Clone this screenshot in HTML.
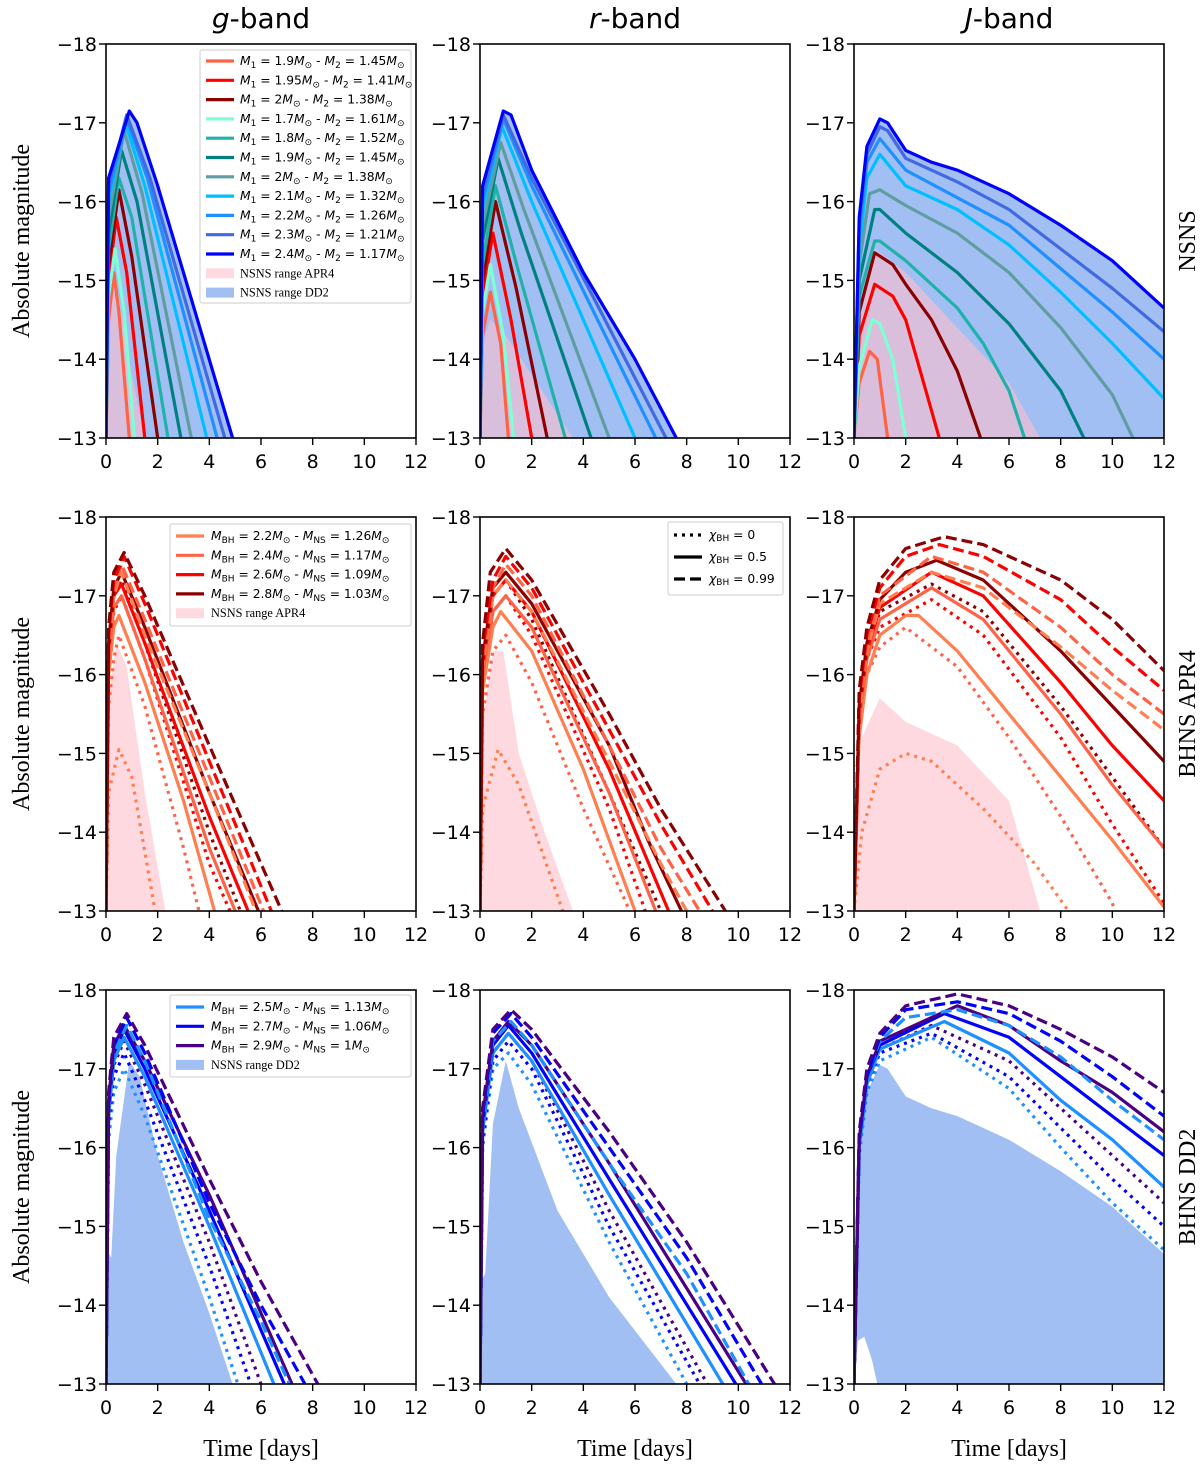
<!DOCTYPE html>
<html><head><meta charset="utf-8"><style>
body{margin:0;background:#fff;}
svg{display:block;font-family:"DejaVu Sans","Liberation Sans",sans-serif;}
.tk{font-size:19px;fill:#000}
.ser{font-family:"Liberation Serif","DejaVu Serif",serif;font-size:24px;fill:#000}
.lg{font-size:12.3px;fill:#000}
</style></head><body>
<svg id="fig" width="1200" height="1472" viewBox="0 0 1200 1472" xmlns="http://www.w3.org/2000/svg"></svg>
<script>
// ---------- axis ranges ----------
const xTicks=[0,2,4,6,8,10,12];
const yTicks=[-18,-17,-16,-15,-14,-13];
const yTickLabels=["\u221218","\u221217","\u221216","\u221215","\u221214","\u221213"];
const bandTitles=["g","r","J"];
const rowLabels=["NSNS","BHNS APR4","BHNS DD2"];

// ---------- row 1: NSNS ----------
const nsnsColors=["#ff6347","#ff0000","#8b0000","#7fffd4","#20b2aa","#008080","#5f9ea0","#00bfff","#1e90ff","#4169e1","#0000ff"];
const nsnsLabels=[["1","1.9","2","1.45"],["1","1.95","2","1.41"],["1","2","2","1.38"],["1","1.7","2","1.61"],["1","1.8","2","1.52"],["1","1.9","2","1.45"],["1","2","2","1.38"],["1","2.1","2","1.32"],["1","2.2","2","1.26"],["1","2.3","2","1.21"],["1","2.4","2","1.17"]];
const nsnsG=[
[[0,-13],[0.1,-14.5],[0.3,-15.1],[0.5,-14.6],[0.9,-13]],
[[0,-13],[0.1,-15],[0.4,-15.8],[0.8,-15.1],[1.5,-13]],
[[0,-13],[0.1,-15.2],[0.5,-16.15],[1,-15.3],[2,-13]],
[[0,-13],[0.1,-14.8],[0.35,-15.4],[0.7,-14.6],[1.1,-13]],
[[0,-13],[0.1,-15.4],[0.5,-16.3],[1,-15.8],[2.4,-13]],
[[0,-13],[0.1,-15.6],[0.6,-16.65],[1.2,-16],[2.9,-13]],
[[0,-13],[0.1,-15.8],[0.7,-16.9],[1.4,-16.1],[3.3,-13]],
[[0,-13],[0.1,-16],[0.75,-17],[1.5,-16.2],[3.9,-13]],
[[0,-13],[0.1,-16.1],[0.8,-17.05],[1.6,-16.3],[4.3,-13]],
[[0,-13],[0.1,-16.2],[0.8,-17.1],[1.7,-16.3],[4.6,-13]],
[[0,-13],[0.1,-16.3],[0.9,-17.15],[1.2,-17.0],[2,-16.2],[4.9,-13]]];
const nsnsR=[
[[0,-13],[0.1,-14.3],[0.4,-14.85],[0.8,-14.2],[1.1,-13]],
[[0,-13],[0.1,-14.8],[0.5,-15.6],[1.2,-14.5],[2,-13]],
[[0,-13],[0.1,-15],[0.6,-16],[1.4,-14.9],[2.6,-13]],
[[0,-13],[0.1,-14.6],[0.4,-15.2],[0.9,-14.3],[1.3,-13]],
[[0,-13],[0.1,-15.2],[0.6,-16.2],[1.5,-15.1],[3.3,-13]],
[[0,-13],[0.1,-15.5],[0.7,-16.55],[1.6,-15.6],[4.3,-13]],
[[0,-13],[0.1,-15.7],[0.8,-16.75],[1.7,-15.9],[5,-13]],
[[0,-13],[0.1,-15.9],[0.85,-16.95],[2,-16],[6,-13]],
[[0,-13],[0.1,-16],[0.9,-17.05],[2,-16.2],[6.8,-13]],
[[0,-13],[0.1,-16.1],[0.9,-17.1],[2,-16.3],[7.2,-13]],
[[0,-13],[0.1,-16.2],[0.9,-17.15],[1.2,-17.1],[2,-16.4],[4,-15.1],[6,-14.0],[7.6,-13]]];
const nsnsJ=[
[[0,-13],[0.2,-13.7],[0.6,-14.1],[0.9,-14.0],[1.3,-13]],
[[0,-13],[0.2,-14.3],[0.8,-14.95],[1.5,-14.8],[2,-14.5],[3.3,-13]],
[[0,-13],[0.2,-14.6],[0.8,-15.35],[1.5,-15.2],[2,-14.95],[3,-14.5],[4,-13.85],[4.9,-13]],
[[0,-13],[0.2,-13.9],[0.7,-14.5],[1,-14.45],[1.5,-14.0],[2,-13]],
[[0,-13],[0.2,-14.8],[0.8,-15.5],[1,-15.5],[2,-15.25],[4,-14.65],[5,-14.2],[6,-13.6],[6.6,-13]],
[[0,-13],[0.2,-15],[0.8,-15.9],[1,-15.9],[2,-15.6],[4,-15.1],[6,-14.45],[8,-13.6],[8.9,-13]],
[[0,-13],[0.2,-15.2],[0.6,-16.1],[1,-16.15],[2,-15.95],[4,-15.6],[6,-15.1],[8,-14.4],[10,-13.55],[10.8,-13]],
[[0,-13],[0.2,-15.4],[0.5,-16.3],[1,-16.6],[2,-16.2],[4,-15.9],[6,-15.45],[8,-14.85],[10,-14.2],[12,-13.5]],
[[0,-13],[0.2,-15.6],[0.5,-16.5],[1,-16.8],[2,-16.4],[4,-16.05],[6,-15.7],[8,-15.15],[10,-14.6],[12,-14.0]],
[[0,-13],[0.2,-15.7],[0.5,-16.6],[1,-16.95],[1.3,-16.9],[2,-16.55],[4,-16.25],[6,-15.9],[8,-15.4],[10,-14.9],[12,-14.35]],
[[0,-13],[0.2,-15.8],[0.5,-16.7],[1,-17.05],[1.3,-17.0],[2,-16.65],[3,-16.5],[4,-16.4],[6,-16.1],[8,-15.7],[10,-15.25],[12,-14.65]]];
const apr4RangeG1=[[0,-13],[0.1,-14.7],[0.3,-15.1],[0.6,-14.6],[1,-13.8],[1.5,-13]];
const apr4RangeR1=[[0,-13],[0.1,-14.2],[0.4,-14.5],[1,-14.3],[2,-13.8],[3.6,-13]];
const apr4RangeJ1=[[0,-13],[0.3,-14.6],[0.8,-15.4],[2,-15.1],[4,-14.4],[6,-13.7],[7.2,-13]];

// ---------- row 2: BHNS APR4 ----------
const apr4Colors=["#ff7f50","#ff6347","#ff0000","#8b0000"];
const apr4Labels=[["2.2","1.26"],["2.4","1.17"],["2.6","1.09"],["2.8","1.03"]];
const spinStyles=["dot","solid","dash"];
const apr4G=[
[0,0,[[0,-13],[0.1,-14.5],[0.5,-15.05],[1,-14.7],[1.9,-13]]],
[1,0,[[0,-13],[0.1,-15.6],[0.3,-16.2],[0.5,-16.5],[1.5,-15.6],[3,-13.8],[3.6,-13]]],
[2,0,[[0,-13],[0.1,-16.1],[0.3,-16.8],[0.6,-17.0],[1.5,-16.2],[4,-13.6],[4.8,-13]]],
[3,0,[[0,-13],[0.1,-16.3],[0.3,-17.0],[0.6,-17.2],[1.5,-16.4],[4,-14.0],[5.2,-13]]],
[0,1,[[0,-13],[0.1,-16],[0.3,-16.6],[0.5,-16.75],[1.5,-15.9],[3,-14.4],[4.2,-13]]],
[1,1,[[0,-13],[0.1,-16.2],[0.3,-16.85],[0.6,-17.0],[1.5,-16.2],[4,-13.8],[5.0,-13]]],
[2,1,[[0,-13],[0.1,-16.3],[0.3,-17],[0.6,-17.15],[1.5,-16.4],[4,-14.2],[5.5,-13]]],
[3,1,[[0,-13],[0.1,-16.4],[0.3,-17.1],[0.6,-17.3],[1.5,-16.6],[4,-14.5],[5.9,-13]]],
[0,2,[[0,-13],[0.1,-16.3],[0.3,-17],[0.6,-17.3],[1.5,-16.5],[4,-14.5],[5.8,-13]]],
[1,2,[[0,-13],[0.1,-16.4],[0.3,-17.1],[0.6,-17.4],[1.5,-16.7],[4,-14.7],[6.1,-13]]],
[2,2,[[0,-13],[0.1,-16.5],[0.3,-17.2],[0.7,-17.5],[1.5,-16.9],[4,-14.9],[6.4,-13]]],
[3,2,[[0,-13],[0.1,-16.6],[0.3,-17.3],[0.7,-17.55],[1.5,-17.0],[4,-15.1],[6.8,-13]]]];
const apr4R=[
[0,0,[[0,-13],[0.1,-14.3],[0.7,-15.05],[1.5,-14.6],[3.2,-13]]],
[1,0,[[0,-13],[0.1,-15.5],[0.5,-16.3],[1,-16.5],[2,-15.9],[4,-14.3],[5.8,-13]]],
[2,0,[[0,-13],[0.1,-15.9],[0.5,-16.8],[1,-17.0],[2,-16.5],[5,-14.3],[6.4,-13]]],
[3,0,[[0,-13],[0.1,-16.0],[0.5,-17.0],[1,-17.2],[2,-16.7],[5,-14.5],[7,-13]]],
[0,1,[[0,-13],[0.1,-15.8],[0.5,-16.6],[0.8,-16.8],[2,-16.3],[4,-14.8],[6,-13]]],
[1,1,[[0,-13],[0.1,-16.0],[0.5,-16.8],[1,-17.0],[2,-16.6],[5,-14.5],[6.8,-13]]],
[2,1,[[0,-13],[0.1,-16.1],[0.5,-17.0],[1,-17.2],[2,-16.8],[5,-14.8],[7.3,-13]]],
[3,1,[[0,-13],[0.1,-16.2],[0.5,-17.1],[1,-17.3],[2,-16.9],[5,-15.1],[6.5,-13.9],[7.8,-13]]],
[0,2,[[0,-13],[0.1,-16.1],[0.5,-17.0],[1,-17.2],[2,-16.8],[5,-14.9],[7,-13.6],[8,-13]]],
[1,2,[[0,-13],[0.1,-16.2],[0.5,-17.1],[1,-17.4],[2,-17.0],[5,-15.1],[7,-13.8],[8.5,-13]]],
[2,2,[[0,-13],[0.1,-16.3],[0.5,-17.2],[1,-17.5],[2,-17.1],[5,-15.3],[7,-14.1],[9,-13]]],
[3,2,[[0,-13],[0.1,-16.4],[0.4,-17.3],[1,-17.6],[2,-17.2],[5,-15.5],[7,-14.3],[9.5,-13]]]];
const apr4J=[
[0,0,[[0,-13],[0.3,-14],[1,-14.8],[2,-15.0],[3,-14.9],[5,-14.3],[7,-13.6],[8.3,-13]]],
[1,0,[[0,-13],[0.2,-15.3],[0.5,-16.0],[1,-16.35],[2,-16.6],[4,-16.1],[6,-15.2],[8,-14.2],[10,-13.1],[10.1,-13]]],
[2,0,[[0,-13],[0.2,-15.4],[0.5,-16.2],[1,-16.6],[3,-16.95],[5,-16.5],[8,-15.2],[10,-14.1],[12,-13.1]]],
[3,0,[[0,-13],[0.2,-15.5],[0.5,-16.3],[1,-16.8],[3,-17.15],[5,-16.8],[8,-15.6],[10,-14.7],[12,-13.8]]],
[0,1,[[0,-13],[0.2,-15.2],[0.5,-16],[1,-16.5],[2,-16.75],[2.5,-16.75],[4,-16.3],[6,-15.5],[8,-14.7],[10,-13.9],[12,-13.05]]],
[1,1,[[0,-13],[0.2,-15.4],[0.5,-16.2],[1,-16.7],[3,-17.1],[5,-16.7],[8,-15.5],[10,-14.6],[12,-13.8]]],
[2,1,[[0,-13],[0.2,-15.5],[0.5,-16.3],[1,-16.85],[3,-17.3],[5,-17.0],[8,-15.9],[10,-15.1],[12,-14.4]]],
[3,1,[[0,-13],[0.2,-15.6],[0.5,-16.4],[1,-16.95],[2,-17.3],[3.2,-17.45],[5,-17.2],[8,-16.3],[10,-15.6],[12,-14.9]]],
[0,2,[[0,-13],[0.2,-15.5],[0.5,-16.3],[1,-16.9],[3,-17.3],[5,-17.1],[8,-16.35],[10,-15.8],[12,-15.3]]],
[1,2,[[0,-13],[0.2,-15.6],[0.5,-16.4],[1,-17.0],[3,-17.5],[5,-17.3],[8,-16.6],[10,-16.0],[12,-15.5]]],
[2,2,[[0,-13],[0.2,-15.7],[0.5,-16.5],[1,-17.1],[2,-17.5],[3.3,-17.65],[5,-17.5],[8,-16.95],[10,-16.35],[12,-15.8]]],
[3,2,[[0,-13],[0.2,-15.8],[0.5,-16.6],[1,-17.2],[2,-17.6],[3.5,-17.75],[5,-17.65],[8,-17.2],[10,-16.7],[12,-16.05]]]];
const apr4RangeG2=[[0,-13],[0.1,-15.7],[0.4,-16.4],[0.8,-16.1],[1.5,-14.5],[2.3,-13]];
const apr4RangeR2=[[0,-13],[0.1,-15.4],[0.5,-16.3],[0.9,-16.3],[1.5,-15],[2.5,-14],[3.6,-13]];
const apr4RangeJ2=[[0,-13],[0.3,-15.2],[1,-15.7],[2,-15.4],[4,-15.1],[6,-14.4],[7.2,-13]];

// ---------- row 3: BHNS DD2 ----------
const dd2Colors=["#1e90ff","#0000ff","#4b0082"];
const dd2Labels=[["2.5","1.13"],["2.7","1.06"],["2.9","1"]];
const dd2G=[
[0,0,[[0,-13],[0.1,-16.1],[0.3,-16.7],[0.7,-17.0],[1.5,-16.4],[4,-14.1],[5.1,-13]]],
[1,0,[[0,-13],[0.1,-16.3],[0.3,-16.9],[0.7,-17.2],[1.5,-16.6],[4,-14.5],[5.6,-13]]],
[2,0,[[0,-13],[0.1,-16.4],[0.3,-17.05],[0.7,-17.35],[1.5,-16.8],[4,-14.8],[6.0,-13]]],
[0,1,[[0,-13],[0.1,-16.4],[0.3,-17.1],[0.7,-17.4],[1.5,-16.9],[4,-15.0],[6.5,-13]]],
[1,1,[[0,-13],[0.1,-16.5],[0.3,-17.2],[0.7,-17.5],[1.5,-17.0],[4,-15.2],[6.9,-13]]],
[2,1,[[0,-13],[0.1,-16.6],[0.3,-17.3],[0.7,-17.55],[1.5,-17.1],[4,-15.4],[7.2,-13]]],
[0,2,[[0,-13],[0.1,-16.5],[0.3,-17.2],[0.8,-17.55],[1.5,-17.1],[4,-15.1],[6,-13.8],[7.1,-13]]],
[1,2,[[0,-13],[0.1,-16.6],[0.3,-17.3],[0.8,-17.65],[1.5,-17.2],[4,-15.3],[6,-14.0],[7.7,-13]]],
[2,2,[[0,-13],[0.1,-16.7],[0.3,-17.4],[0.8,-17.7],[1.5,-17.3],[4,-15.6],[6,-14.3],[8.2,-13]]]];
const dd2R=[
[0,0,[[0,-13],[0.1,-16.0],[0.5,-17.0],[1.1,-17.2],[2,-16.8],[5,-14.8],[8.0,-13]]],
[1,0,[[0,-13],[0.1,-16.1],[0.5,-17.1],[1.1,-17.35],[2,-17.0],[5,-15.0],[8.5,-13]]],
[2,0,[[0,-13],[0.1,-16.2],[0.5,-17.2],[1.1,-17.45],[2,-17.1],[5,-15.2],[8.8,-13]]],
[0,1,[[0,-13],[0.1,-16.2],[0.5,-17.2],[1.1,-17.45],[2,-17.1],[5,-15.4],[9.4,-13]]],
[1,1,[[0,-13],[0.1,-16.3],[0.5,-17.3],[1.1,-17.55],[2,-17.2],[5,-15.6],[9.9,-13]]],
[2,1,[[0,-13],[0.1,-16.4],[0.5,-17.35],[1.1,-17.6],[2,-17.3],[5,-15.8],[10.3,-13]]],
[0,2,[[0,-13],[0.1,-16.3],[0.5,-17.35],[1.2,-17.6],[2,-17.3],[5,-15.8],[8,-14.4],[10.4,-13]]],
[1,2,[[0,-13],[0.1,-16.4],[0.5,-17.45],[1.2,-17.7],[2,-17.4],[5,-16.0],[8,-14.6],[10.9,-13]]],
[2,2,[[0,-13],[0.1,-16.5],[0.5,-17.5],[1.2,-17.75],[2,-17.5],[5,-16.2],[8,-14.8],[11.4,-13]]]];
const dd2J=[
[0,0,[[0,-13],[0.2,-15.9],[0.5,-16.7],[1,-17.1],[3,-17.4],[6,-16.75],[8,-16.0],[10,-15.3],[12,-14.7]]],
[1,0,[[0,-13],[0.2,-16.0],[0.5,-16.8],[1,-17.2],[3,-17.45],[6,-16.9],[8,-16.25],[10,-15.6],[12,-15.0]]],
[2,0,[[0,-13],[0.2,-16.0],[0.5,-16.8],[1,-17.25],[3,-17.55],[6,-17.1],[8,-16.5],[10,-15.9],[12,-15.3]]],
[0,1,[[0,-13],[0.2,-16.0],[0.5,-16.8],[1,-17.25],[3.5,-17.6],[6,-17.2],[8,-16.6],[10,-16.1],[12,-15.5]]],
[1,1,[[0,-13],[0.2,-16.1],[0.5,-16.9],[1,-17.3],[3.5,-17.7],[6,-17.4],[8,-16.9],[10,-16.4],[12,-15.9]]],
[2,1,[[0,-13],[0.2,-16.1],[0.5,-16.9],[1,-17.35],[4,-17.8],[6,-17.55],[8,-17.1],[10,-16.7],[12,-16.2]]],
[0,2,[[0,-13],[0.2,-16.1],[0.5,-16.9],[1,-17.35],[2,-17.65],[4,-17.75],[6,-17.55],[8,-17.15],[10,-16.6],[12,-16.1]]],
[1,2,[[0,-13],[0.2,-16.1],[0.5,-16.9],[1,-17.4],[2,-17.75],[4,-17.85],[6,-17.7],[8,-17.35],[10,-16.9],[12,-16.4]]],
[2,2,[[0,-13],[0.2,-16.2],[0.5,-17],[1,-17.45],[2,-17.8],[4,-17.95],[6,-17.8],[8,-17.5],[10,-17.15],[12,-16.7]]]];
const dd2RangeG3=[[0,-13],[0.03,-14.7],[0.2,-14.6],[0.4,-15.9],[0.9,-17.1],[1.3,-16.9],[2,-15.9],[3,-14.8],[4,-13.9],[4.9,-13]];
const dd2RangeR3=[[0,-13],[0.03,-14.3],[0.2,-14.4],[0.5,-16.3],[1,-17.1],[1.5,-16.5],[3,-15.2],[5,-14.1],[7.6,-13]];
const dd2RangeJLow=[[0,-13],[0.15,-13.55],[0.4,-13.6],[0.7,-13.3],[0.9,-13],[12,-13]];

// ---------- layout ----------
const colX=[106,480,854], rowY=[44,517,990], PW=310, PH=394;
const NS="http://www.w3.org/2000/svg";
const fig=document.getElementById('fig');
function el(tag,attrs,parent){const e=document.createElementNS(NS,tag);for(const k in attrs)e.setAttribute(k,attrs[k]);(parent||fig).appendChild(e);return e;}
function xs(c,t){return colX[c]+t/12*PW;}
function ys(r,m){return rowY[r]+(m+18)/5*PH;}
function pathD(c,r,pts){return pts.map((p,i)=>(i?'L':'M')+xs(c,p[0]).toFixed(1)+' '+ys(r,p[1]).toFixed(1)).join(' ');}
const dashes={dot:"3,5",solid:"",dash:"11,5"};

const defs=el('defs',{});
for(let r=0;r<3;r++)for(let c=0;c<3;c++){
  const cp=el('clipPath',{id:'cp'+r+c},defs);
  el('rect',{x:colX[c],y:rowY[r],width:PW,height:PH},cp);
}
function fillArea(c,r,top,color,name,low){
  let d=pathD(c,r,top);
  if(low){const rev=low.slice().reverse();d+=' '+rev.map(p=>'L'+xs(c,p[0]).toFixed(1)+' '+ys(r,p[1]).toFixed(1)).join(' ');}
  else d+=' L'+xs(c,top[top.length-1][0])+' '+ys(r,-13)+' L'+xs(c,0)+' '+ys(r,-13);
  d+=' Z';
  const p=el('path',{d:d,fill:color,'fill-opacity':0.6,'clip-path':'url(#cp'+r+c+')'});
  
  
}
function line(c,r,pts,color,style,name){
  const p=el('path',{d:pathD(c,r,pts),fill:'none',stroke:color,'stroke-width':3.2,'stroke-dasharray':dashes[style]||'','stroke-linejoin':'round','clip-path':'url(#cp'+r+c+')'});
  
  
}
const PINK="#ffc0cb", CBLUE="#6495ed";

const r1=[nsnsG,nsnsR,nsnsJ], r1pink=[apr4RangeG1,apr4RangeR1,apr4RangeJ1];
for(let c=0;c<3;c++){
  fillArea(c,0,r1[c][10],CBLUE,'nsns-dd2-range-'+bandTitles[c]);
  fillArea(c,0,r1pink[c],PINK,'nsns-apr4-range-'+bandTitles[c]);
  r1[c].forEach((pts,i)=>line(c,0,pts,nsnsColors[i],'solid','nsns-curve-'+bandTitles[c]+'-'+i));
}
const r2=[apr4G,apr4R,apr4J], r2pink=[apr4RangeG2,apr4RangeR2,apr4RangeJ2];
for(let c=0;c<3;c++){
  fillArea(c,1,r2pink[c],PINK,'bhns-apr4-nsns-range-'+bandTitles[c]);
  r2[c].forEach(s=>line(c,1,s[2],apr4Colors[s[0]],spinStyles[s[1]],'bhns-apr4-curve-'+bandTitles[c]+'-'+s[0]+'-'+spinStyles[s[1]]));
}
const r3=[dd2G,dd2R,dd2J], r3blue=[dd2RangeG3,dd2RangeR3,nsnsJ[10]];
for(let c=0;c<3;c++){
  fillArea(c,2,r3blue[c],CBLUE,'bhns-dd2-nsns-range-'+bandTitles[c], c===2?dd2RangeJLow:null);
  r3[c].forEach(s=>line(c,2,s[2],dd2Colors[s[0]],spinStyles[s[1]],'bhns-dd2-curve-'+bandTitles[c]+'-'+s[0]+'-'+spinStyles[s[1]]));
}

for(let r=0;r<3;r++)for(let c=0;c<3;c++){
  const g=el('g',{});
  
  
  el('rect',{x:colX[c],y:rowY[r],width:PW,height:PH,fill:'none',stroke:'#000','stroke-width':1.6},g);
  xTicks.forEach(t=>{
    const x=xs(c,t);
    el('line',{x1:x,x2:x,y1:rowY[r]+PH,y2:rowY[r]+PH+7,stroke:'#000','stroke-width':1.4},g);
    const tx=el('text',{x:x,y:rowY[r]+PH+30,'text-anchor':'middle',class:'tk'},g);tx.textContent=t;
    
    
  });
  yTicks.forEach((m,i)=>{
    const y=ys(r,m);
    el('line',{x1:colX[c]-7,x2:colX[c],y1:y,y2:y,stroke:'#000','stroke-width':1.4},g);
    const ty=el('text',{x:colX[c]-9,y:y+7,'text-anchor':'end',class:'tk'},g);ty.textContent=yTickLabels[i];
    
    
  });
}
for(let c=0;c<3;c++){
  const t=el('text',{x:colX[c]+PW/2,y:28,'text-anchor':'middle','font-size':28});
  t.innerHTML='<tspan font-style="italic">'+bandTitles[c]+'</tspan>-band';
  
  
  const xl=el('text',{x:colX[c]+PW/2,y:1456,'text-anchor':'middle',class:'ser'});
  xl.textContent='Time [days]';
  
  
}
for(let r=0;r<3;r++){
  const cy=rowY[r]+PH/2;
  const yl=el('text',{x:0,y:0,'text-anchor':'middle',class:'ser',transform:'translate(29,'+cy+') rotate(-90)'});
  yl.textContent='Absolute magnitude';
  
  
  const rl=el('text',{x:0,y:0,'text-anchor':'middle',class:'ser',transform:'translate(1195,'+cy+') rotate(-90)'});
  rl.textContent=rowLabels[r];
  
  
}

function legendBox(x,y,w,h,name){
  const g=el('g',{});
  
  
  el('rect',{x:x,y:y,width:w,height:h,fill:'#fff','fill-opacity':0.85,stroke:'#ccc','stroke-width':1,rx:2},g);
  return g;
}
const M=(sub,v)=>'<tspan font-style="italic">M</tspan><tspan font-size="9" dy="3">'+sub+'</tspan><tspan dy="-3"> = '+v+'</tspan><tspan font-style="italic">M</tspan><tspan font-size="9" dy="3">\u2299</tspan><tspan dy="-3"> - </tspan>';
const M2=(sub,v)=>'<tspan font-style="italic">M</tspan><tspan font-size="9" dy="3">'+sub+'</tspan><tspan dy="-3"> = '+v+'</tspan><tspan font-style="italic">M</tspan><tspan font-size="9" dy="3">\u2299</tspan>';
let g1=legendBox(200,50,211,253,'legend-nsns');
nsnsLabels.forEach((l,i)=>{
  const y=61+i*19.3;
  el('line',{x1:206,x2:234,y1:y,y2:y,stroke:nsnsColors[i],'stroke-width':3.2},g1);
  const t=el('text',{x:240,y:y+4,class:'lg'},g1);
  t.innerHTML=M(l[0],l[1])+M2(l[2],l[3]);
});
[['NSNS range APR4',PINK],['NSNS range DD2',CBLUE]].forEach((e,i)=>{
  const y=61+(11+i)*19.3;
  el('rect',{x:206,y:y-5,width:28,height:10,fill:e[1],'fill-opacity':0.6},g1);
  const t=el('text',{x:240,y:y+4,class:'lg','font-family':'Liberation Serif, serif','font-size':11.5},g1);t.textContent=e[0];
});
let g2=legendBox(170,524,241,102,'legend-bhns-apr4');
apr4Labels.forEach((l,i)=>{
  const y=536+i*19.3;
  el('line',{x1:176,x2:204,y1:y,y2:y,stroke:apr4Colors[i],'stroke-width':3.2},g2);
  const t=el('text',{x:211,y:y+4,class:'lg'},g2);
  t.innerHTML=M('BH',l[0])+M2('NS',l[1]);
});
{const y=536+4*19.3;el('rect',{x:176,y:y-5,width:28,height:10,fill:PINK,'fill-opacity':0.6},g2);
 const t=el('text',{x:211,y:y+4,class:'lg','font-family':'Liberation Serif, serif','font-size':11.5},g2);t.textContent='NSNS range APR4';}
let g3=legendBox(668,522,115,73,'legend-spin');
['0','0.5','0.99'].forEach((v,i)=>{
  const y=535+i*22;
  el('line',{x1:674,x2:702,y1:y,y2:y,stroke:'#000','stroke-width':3.2,'stroke-dasharray':dashes[spinStyles[i]]},g3);
  const t=el('text',{x:709,y:y+4,class:'lg','font-size':12.5},g3);
  t.innerHTML='<tspan font-style="italic">\u03c7</tspan><tspan font-size="9" dy="2">BH</tspan><tspan dy="-2"> = '+v+'</tspan>';
});
let g4=legendBox(170,995,241,82,'legend-bhns-dd2');
dd2Labels.forEach((l,i)=>{
  const y=1007+i*19.3;
  el('line',{x1:176,x2:204,y1:y,y2:y,stroke:dd2Colors[i],'stroke-width':3.2},g4);
  const t=el('text',{x:211,y:y+4,class:'lg'},g4);
  t.innerHTML=M('BH',l[0])+M2('NS',l[1]);
});
{const y=1007+3*19.3;el('rect',{x:176,y:y-5,width:28,height:10,fill:CBLUE,'fill-opacity':0.6},g4);
 const t=el('text',{x:211,y:y+4,class:'lg','font-family':'Liberation Serif, serif','font-size':11.5},g4);t.textContent='NSNS range DD2';}
</script>
</body></html>
